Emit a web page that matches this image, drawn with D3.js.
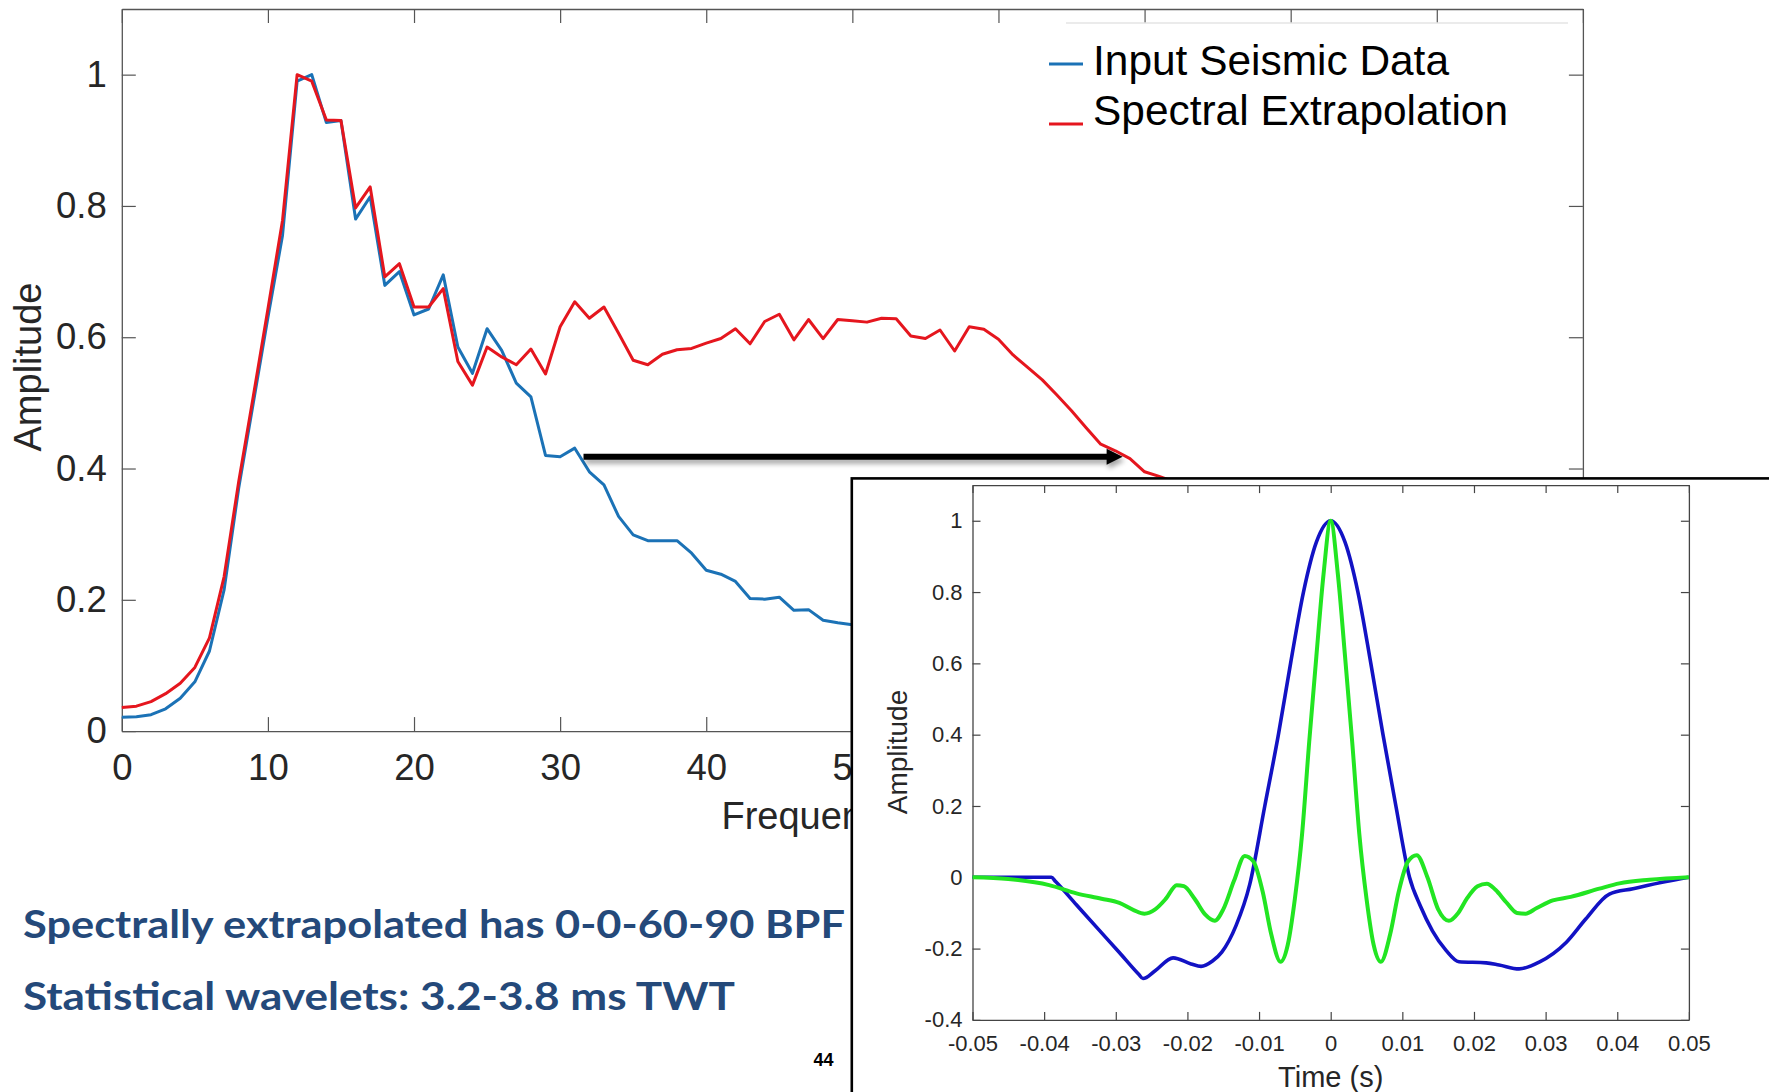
<!DOCTYPE html>
<html>
<head>
<meta charset="utf-8">
<script src="https://cdn.jsdelivr.net/npm/d3@7"></script>
<style>
  html, body { margin: 0; padding: 0; background: #ffffff; }
  svg { display: block; }
  .ax text { fill: #262626; font-family: "Liberation Sans", Arial, sans-serif; }
</style>
</head>
<body>
<svg id="chart" width="1769" height="1092"></svg>
<script>
// ---------------- DATA ----------------
const seriesNames = ["Input Seismic Data", "Spectral Extrapolation"];
// frequency grid (Hz), 1 Hz sampling
const freqInput = d3.range(0, 52);
const inputSeismic = [0.021,0.022,0.025,0.034,0.05,0.075,0.122,0.215,0.37,0.50,
  0.63,0.755,0.99,1.0,0.927,0.93,0.78,0.814,0.679,0.70,
  0.634,0.643,0.695,0.585,0.545,0.613,0.580,0.530,0.509,0.42,
  0.418,0.431,0.395,0.375,0.327,0.299,0.29,0.29,0.29,0.271,
  0.245,0.239,0.228,0.202,0.201,0.204,0.184,0.185,0.169,0.165,
  0.162,0.158];
const freqSpectral = d3.range(0, 73);
const spectralExtrap = [0.036,0.038,0.045,0.057,0.073,0.097,0.142,0.235,0.38,0.51,
  0.643,0.778,1.0,0.99,0.931,0.93,0.797,0.829,0.692,0.712,
  0.646,0.646,0.674,0.563,0.527,0.585,0.570,0.558,0.582,0.544,
  0.616,0.654,0.629,0.646,0.606,0.565,0.558,0.574,0.581,0.583,
  0.591,0.598,0.613,0.590,0.624,0.635,0.596,0.627,0.598,0.627,
  0.625,0.623,0.629,0.628,0.602,0.598,0.611,0.579,0.616,0.612,
  0.597,0.573,0.554,0.535,0.512,0.488,0.462,0.437,0.427,0.415,
  0.395,0.388,0.38];
const mainXTicks = [0,10,20,30,40,50,60,70,80,90,100];
const mainYTicks = [0,0.2,0.4,0.6,0.8,1];
// arrow annotation (data units of main plot)
const arrowFrom = [31.6, 0.418];
const arrowTo = [68.5, 0.418];

// inset wavelets
const waveTimeBlue = [-0.05,-0.045,-0.039,-0.0384,-0.0355,-0.0326,-0.0295,-0.0268,-0.0262,-0.0245,-0.022,-0.0195,-0.0181,-0.0165,-0.0152,-0.0132,-0.0113,-0.0092,-0.0073,-0.0056,-0.0038,-0.002,0,
  0.002,0.0038,0.0056,0.0073,0.0091,0.011,0.0125,0.0142,0.0161,0.0179,0.0217,0.0235,0.0263,0.0291,0.0329,0.0356,0.0389,0.0422,0.0468,0.05];
const waveBlue = [0,0,0,-0.012,-0.077,-0.142,-0.211,-0.272,-0.284,-0.262,-0.226,-0.243,-0.25,-0.235,-0.21,-0.135,-0.02,0.2,0.4,0.6,0.8,0.94,1.0,
  0.94,0.8,0.6,0.4,0.2,0.0,-0.08,-0.15,-0.205,-0.237,-0.24,-0.246,-0.257,-0.238,-0.182,-0.117,-0.047,-0.032,-0.012,0];
const waveTimeGreen = [-0.05,-0.045,-0.0393,-0.0355,-0.032,-0.0295,-0.0275,-0.026,-0.0245,-0.023,-0.0215,-0.0205,-0.019,-0.0175,-0.0162,-0.015,-0.0135,-0.012,-0.0108,-0.0095,-0.0083,-0.007,-0.006,-0.005,-0.004,-0.003,-0.002,-0.001,0,
  0.001,0.002,0.003,0.004,0.005,0.006,0.007,0.0083,0.0095,0.0108,0.012,0.0135,0.015,0.0165,0.0178,0.019,0.0205,0.0218,0.023,0.0245,0.026,0.0272,0.0287,0.031,0.0335,0.0375,0.0403,0.0445,0.05];
const waveGreen = [0,-0.005,-0.022,-0.045,-0.06,-0.072,-0.092,-0.102,-0.09,-0.06,-0.022,-0.025,-0.06,-0.105,-0.122,-0.09,-0.01,0.06,0.045,-0.04,-0.16,-0.237,-0.19,-0.06,0.12,0.38,0.62,0.85,1.0,
  0.85,0.62,0.38,0.12,-0.06,-0.19,-0.237,-0.16,-0.04,0.045,0.062,0.0,-0.09,-0.122,-0.1,-0.06,-0.025,-0.018,-0.035,-0.07,-0.1,-0.102,-0.087,-0.065,-0.055,-0.032,-0.017,-0.007,0];
const insetXTicks = [-0.05,-0.04,-0.03,-0.02,-0.01,0,0.01,0.02,0.03,0.04,0.05];
const insetYTicks = [-0.4,-0.2,0,0.2,0.4,0.6,0.8,1];

const bullets = ["Spectrally extrapolated has 0-0-60-90 BPF", "Statistical wavelets: 3.2-3.8 ms TWT"];
const pageNumber = "44";

// ---------------- DRAW ----------------
const svg = d3.select("#chart");
const FONT = '"Liberation Sans", Arial, Helvetica, sans-serif';

const defs = svg.append("defs");
const sh = defs.append("filter").attr("id", "shadow").attr("x", "-5%").attr("y", "-200%").attr("width", "110%").attr("height", "500%");
sh.append("feDropShadow").attr("dx", 2).attr("dy", 4).attr("stdDeviation", 2.5).attr("flood-color", "#000").attr("flood-opacity", 0.35);
// region of the main figure not covered by the inset (used to clip the x-axis title)
defs.append("clipPath").attr("id", "leftOfInset").append("rect")
  .attr("x", 0).attr("y", 0).attr("width", 851).attr("height", 1092);

// ---- main plot ----
const M = {l: 121.8, r: 1582.9, t: 9, b: 731.1};
const x = d3.scaleLinear().domain([0, 100]).range([M.l, M.r]);
const y = d3.scaleLinear().domain([0, 1.1]).range([M.b, M.t]);
const axisColor = "#555";
const fmt = d => String(Math.round(d * 100) / 100);

const gMain = svg.append("g");

const gx = gMain.append("g").attr("class", "ax").attr("transform", `translate(0,${M.b})`)
  .call(d3.axisBottom(x).tickValues(mainXTicks).tickSizeInner(-14).tickSizeOuter(0).tickPadding(23).tickFormat(fmt));
const gy = gMain.append("g").attr("class", "ax").attr("transform", `translate(${M.l},0)`)
  .call(d3.axisLeft(y).tickValues(mainYTicks).tickSizeInner(-14).tickSizeOuter(0).tickPadding(15).tickFormat(fmt));
const gt = gMain.append("g").attr("class", "ax").attr("transform", `translate(0,${M.t})`)
  .call(d3.axisTop(x).tickValues(mainXTicks).tickSizeInner(-14).tickSizeOuter(0).tickFormat(""));
const gr = gMain.append("g").attr("class", "ax").attr("transform", `translate(${M.r},0)`)
  .call(d3.axisRight(y).tickValues(mainYTicks).tickSizeInner(-14).tickSizeOuter(0).tickFormat(""));
[gx, gy, gt, gr].forEach(g => {
  g.attr("color", axisColor);
  g.selectAll("path.domain").attr("stroke-width", 1.3);
  g.selectAll(".tick line").attr("stroke-width", 1.2);
  g.selectAll("text").attr("font-size", 36.5).attr("font-family", FONT).attr("fill", "#262626");
});
// tick labels hidden behind the inset are clipped to the visible part
gx.selectAll(".tick text").attr("clip-path", null);

// faint legend frame line
gMain.append("line").attr("x1", 1066).attr("x2", 1568).attr("y1", 23).attr("y2", 23)
  .attr("stroke", "#e4e4e4").attr("stroke-width", 1.5);

const line = (xs, ys, sx, sy, curve) => d3.line().x((d, i) => sx(xs[i])).y(d => sy(d)).curve(curve || d3.curveLinear)(ys);

gMain.append("path").attr("d", line(freqInput, inputSeismic, x, y))
  .attr("fill", "none").attr("stroke", "#1B72B6").attr("stroke-width", 3).attr("stroke-linejoin", "round");
gMain.append("path").attr("d", line(freqSpectral, spectralExtrap, x, y))
  .attr("fill", "none").attr("stroke", "#E5161E").attr("stroke-width", 3).attr("stroke-linejoin", "round");

// axis titles
gMain.append("text").attr("transform", `translate(41,367) rotate(-90)`).attr("text-anchor", "middle")
  .attr("font-family", FONT).attr("font-size", 38).attr("fill", "#262626").text("Amplitude");
gMain.append("g").attr("clip-path", "url(#leftOfInset)")
  .append("text").attr("x", (M.l + M.r) / 2).attr("y", 829).attr("text-anchor", "middle")
  .attr("font-family", FONT).attr("font-size", 38).attr("fill", "#262626").text("Frequency (Hz)");

// legend
const legendY = [[64, 75], [124, 125]];
const legendLen = [356, 415];
const legendColors = ["#1B72B6", "#E5161E"];
seriesNames.forEach((name, i) => {
  gMain.append("line").attr("x1", 1049).attr("x2", 1083).attr("y1", legendY[i][0]).attr("y2", legendY[i][0])
    .attr("stroke", legendColors[i]).attr("stroke-width", 3);
  gMain.append("text").attr("x", 1093).attr("y", legendY[i][1]).attr("font-family", FONT)
    .attr("font-size", 42).attr("fill", "#000")
    .attr("textLength", legendLen[i]).attr("lengthAdjust", "spacingAndGlyphs").text(name);
});

// arrow
const ax1 = x(arrowFrom[0]), ax2 = x(arrowTo[0]), ay = y(arrowFrom[1]);
const gArrow = gMain.append("g").attr("filter", "url(#shadow)");
gArrow.append("line").attr("x1", ax1).attr("x2", ax2 - 14).attr("y1", ay).attr("y2", ay)
  .attr("stroke", "#000").attr("stroke-width", 6);
gArrow.append("path").attr("d", `M${ax2},${ay} L${ax2 - 16},${ay - 8} L${ax2 - 16},${ay + 8} Z`).attr("fill", "#000");

// ---- bottom text ----
const bulletY = [937.5, 1010];
const bulletLen = [822, 712];
bullets.forEach((t, i) => {
  svg.append("text").attr("x", 23).attr("y", bulletY[i]).attr("font-family", "Lato, 'Open Sans', sans-serif")
    .attr("font-weight", 700).attr("font-size", 39).attr("fill", "#24497A")
    .attr("textLength", bulletLen[i]).attr("lengthAdjust", "spacingAndGlyphs").text(t);
});
svg.append("text").attr("x", 823.5).attr("y", 1066).attr("text-anchor", "middle").attr("font-family", FONT)
  .attr("font-weight", 700).attr("font-size", 18).attr("fill", "#000").text(pageNumber);

// ---- inset ----
svg.append("rect").attr("x", 851.8).attr("y", 478.4).attr("width", 1000).attr("height", 700)
  .attr("fill", "#fff").attr("stroke", "#000").attr("stroke-width", 2.6);

const I = {l: 972.5, r: 1688.9, t: 485.1, b: 1019.9};
const xi = d3.scaleLinear().domain([-0.05, 0.05]).range([I.l, I.r]);
const yi = d3.scaleLinear().domain([-0.4, 1.1]).range([I.b, I.t]);
const gIn = svg.append("g");
const ix = gIn.append("g").attr("transform", `translate(0,${I.b})`)
  .call(d3.axisBottom(xi).tickValues(insetXTicks).tickSizeInner(-8).tickSizeOuter(0).tickPadding(15).tickFormat(fmt));
const iy = gIn.append("g").attr("transform", `translate(${I.l},0)`)
  .call(d3.axisLeft(yi).tickValues(insetYTicks).tickSizeInner(-8).tickSizeOuter(0).tickPadding(10).tickFormat(fmt));
const it = gIn.append("g").attr("transform", `translate(0,${I.t})`)
  .call(d3.axisTop(xi).tickValues(insetXTicks).tickSizeInner(-8).tickSizeOuter(0).tickFormat(""));
const ir = gIn.append("g").attr("transform", `translate(${I.r},0)`)
  .call(d3.axisRight(yi).tickValues(insetYTicks).tickSizeInner(-8).tickSizeOuter(0).tickFormat(""));
[ix, iy, it, ir].forEach(g => {
  g.attr("color", "#444");
  g.selectAll("path.domain").attr("stroke-width", 1.3);
  g.selectAll(".tick line").attr("stroke-width", 1.2);
  g.selectAll("text").attr("font-size", 22).attr("font-family", FONT).attr("fill", "#262626");
});

gIn.append("path").attr("d", line(waveTimeBlue, waveBlue, xi, yi, d3.curveMonotoneX))
  .attr("fill", "none").attr("stroke", "#1212C4").attr("stroke-width", 3.6).attr("stroke-linejoin", "round");
gIn.append("path").attr("d", line(waveTimeGreen, waveGreen, xi, yi, d3.curveMonotoneX))
  .attr("fill", "none").attr("stroke", "#22E522").attr("stroke-width", 4).attr("stroke-linejoin", "round");

gIn.append("text").attr("transform", `translate(907,752) rotate(-90)`).attr("text-anchor", "middle")
  .attr("font-family", FONT).attr("font-size", 28).attr("fill", "#262626").text("Amplitude");
gIn.append("text").attr("x", (I.l + I.r) / 2).attr("y", 1087).attr("text-anchor", "middle")
  .attr("font-family", FONT).attr("font-size", 29).attr("fill", "#262626").text("Time (s)");
</script>
</body>
</html>
